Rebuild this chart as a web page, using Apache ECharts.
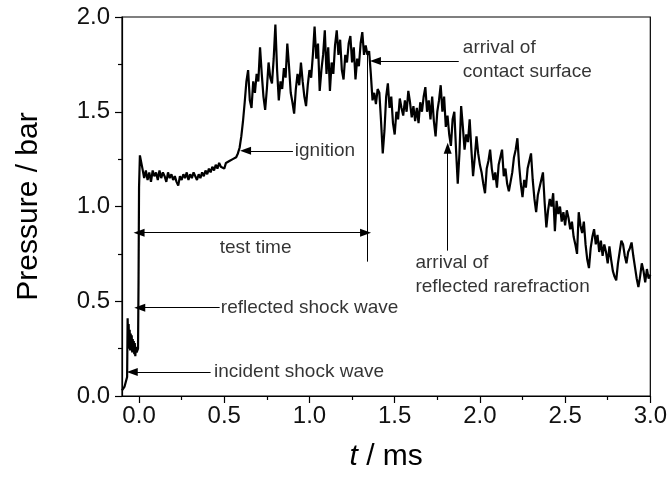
<!DOCTYPE html>
<html>
<head>
<meta charset="utf-8">
<script src="https://cdn.jsdelivr.net/npm/echarts@6/dist/echarts.min.js"></script>
<style>html,body{margin:0;padding:0;background:#fff}#c{width:670px;height:481px}</style>
</head>
<body>
<div id="c"></div>
<script>
// Time (ms) and pressure (bar)
const timeMs = [
-0.100,-0.095,-0.090,-0.085,-0.080,-0.075,-0.070,-0.067,-0.064,-0.061,-0.058,-0.055,-0.052,-0.049,-0.046,-0.043,-0.040,-0.037,-0.034,-0.031,-0.028,-0.025,-0.022,-0.018,-0.014,-0.010,-0.006,-0.003,0.000,0.005,
0.01,0.02,0.03,0.04,0.05,0.06,0.07,0.08,0.09,0.10,0.11,0.12,0.13,0.14,0.15,0.16,0.17,0.18,0.19,0.20,
0.21,0.22,0.23,0.24,0.25,0.26,0.27,0.28,0.29,0.30,0.31,0.32,0.33,0.34,0.35,0.36,0.37,0.38,0.39,0.40,
0.41,0.42,0.43,0.44,0.45,0.46,0.47,0.48,0.49,0.50,0.51,0.52,0.53,0.54,0.55,0.56,0.57,0.58,0.59,0.60,
0.61,0.62,0.63,0.64,0.65,0.66,0.67,0.68,0.69,0.70,0.71,0.72,0.73,0.74,0.75,0.76,0.77,0.78,0.79,0.80,
0.81,0.82,0.83,0.84,0.85,0.86,0.87,0.88,0.89,0.90,0.91,0.92,0.93,0.94,0.95,0.96,0.97,0.98,0.99,1.00,
1.01,1.02,1.03,1.04,1.05,1.06,1.07,1.08,1.09,1.10,1.11,1.12,1.13,1.14,1.15,1.16,1.17,1.18,1.19,1.20,
1.21,1.22,1.23,1.24,1.25,1.26,1.27,1.28,1.29,1.30,1.31,1.32,1.33,1.34,1.35,1.36,1.37,1.38,1.39,1.40,
1.41,1.42,1.43,1.44,1.45,1.46,1.47,1.48,1.49,1.50,1.51,1.52,1.53,1.54,1.55,1.56,1.57,1.58,1.59,1.60,
1.61,1.62,1.63,1.64,1.65,1.66,1.67,1.68,1.69,1.70,1.71,1.72,1.73,1.74,1.75,1.76,1.77,1.78,1.79,1.80,
1.81,1.82,1.83,1.84,1.85,1.86,1.87,1.88,1.89,1.90,1.91,1.92,1.93,1.94,1.95,1.96,1.97,1.98,1.99,2.00,
2.01,2.02,2.03,2.04,2.05,2.06,2.07,2.08,2.09,2.10,2.11,2.12,2.13,2.14,2.15,2.16,2.17,2.18,2.19,2.20,
2.21,2.22,2.23,2.24,2.25,2.26,2.27,2.28,2.29,2.30,2.31,2.32,2.33,2.34,2.35,2.36,2.37,2.38,2.39,2.40,
2.41,2.42,2.43,2.44,2.45,2.46,2.47,2.48,2.49,2.50,2.51,2.52,2.53,2.54,2.55,2.56,2.57,2.58,2.59,2.60,
2.61,2.62,2.63,2.64,2.65,2.66,2.67,2.68,2.69,2.70,2.71,2.72,2.73,2.74,2.75,2.76,2.77,2.78,2.79,2.80,
2.81,2.82,2.83,2.84,2.85,2.86,2.87,2.88,2.89,2.90,2.91,2.92,2.93,2.94,2.95,2.96,2.97,2.98,2.99,3.00
];
const pressureBar = [
0.03,0.04,0.03,0.05,0.04,0.06,0.10,0.41,0.30,0.38,0.25,0.35,0.24,0.33,0.26,0.32,0.23,0.30,0.25,0.29,0.22,0.28,0.21,0.26,0.23,0.22,0.25,0.60,1.10,1.27,
1.27,1.20,1.15,1.19,1.14,1.18,1.13,1.19,1.16,1.18,1.14,1.19,1.15,1.18,1.16,1.13,1.18,1.15,1.17,1.14,
1.16,1.13,1.11,1.16,1.14,1.17,1.15,1.18,1.14,1.17,1.15,1.18,1.16,1.14,1.17,1.15,1.18,1.16,1.19,1.17,
1.20,1.18,1.21,1.19,1.22,1.20,1.23,1.21,1.22,1.20,1.23,1.22,1.24,1.23,1.25,1.24,1.26,1.28,1.31,1.37,
1.45,1.55,1.66,1.72,1.56,1.52,1.66,1.60,1.70,1.66,1.84,1.70,1.58,1.51,1.62,1.76,1.68,1.65,1.78,1.96,
1.72,1.56,1.66,1.62,1.73,1.68,1.86,1.74,1.60,1.55,1.49,1.62,1.70,1.64,1.76,1.66,1.58,1.53,1.64,1.72,
1.68,1.80,1.95,1.78,1.86,1.61,1.72,1.80,1.93,1.70,1.84,1.61,1.76,1.70,1.85,1.93,1.80,1.88,1.72,1.67,
1.80,1.76,1.86,1.90,1.76,1.84,1.67,1.78,1.74,1.86,1.92,1.80,1.85,1.80,1.82,1.70,1.56,1.60,1.54,1.62,
1.60,1.45,1.28,1.40,1.58,1.65,1.52,1.58,1.44,1.38,1.50,1.46,1.57,1.52,1.48,1.56,1.50,1.61,1.55,1.47,
1.53,1.45,1.52,1.44,1.55,1.50,1.58,1.63,1.50,1.56,1.46,1.58,1.45,1.37,1.50,1.56,1.64,1.50,1.58,1.42,
1.48,1.38,1.32,1.46,1.50,1.30,1.12,1.28,1.53,1.42,1.30,1.38,1.34,1.46,1.30,1.16,1.26,1.37,1.28,1.22,
1.18,1.12,1.07,1.20,1.24,1.30,1.20,1.14,1.18,1.10,1.22,1.26,1.30,1.16,1.20,1.12,1.08,1.07,1.18,1.26,
1.30,1.36,1.22,1.12,1.05,1.14,1.10,1.20,1.24,1.28,1.14,1.04,0.97,1.06,1.10,1.14,1.18,1.02,0.89,0.98,
1.04,1.00,1.07,0.87,1.03,0.96,1.00,0.92,0.97,0.90,0.98,0.94,0.88,0.92,0.84,0.80,0.75,0.97,0.90,0.86,
0.92,0.80,0.72,0.675,0.78,0.84,0.88,0.80,0.85,0.76,0.82,0.74,0.80,0.76,0.70,0.79,0.72,0.66,0.63,0.61,
0.70,0.76,0.82,0.80,0.74,0.70,0.76,0.78,0.81,0.74,0.68,0.62,0.575,0.63,0.70,0.66,0.60,0.67,0.62,0.64
];
const xTickValues = [0, 0.5, 1.0, 1.5, 2.0, 2.5, 3.0];
const xMinorTickValues = [0.25, 0.75, 1.25, 1.75, 2.25, 2.75];

// Annotation arrows: [tail, head] in data units (ms, bar)
const incidentArrow = [[0.42, 0.127], [-0.04, 0.127]];
const reflectedArrow = [[0.473, 0.466], [0.004, 0.466]];
const testTimeArrow = [[0.0, 0.862], [1.329, 0.862]];
const testTimeEndLine = [[1.338, 0.709], [1.338, 1.80]];
const ignitionArrow = [[0.903, 1.294], [0.625, 1.294]];
const contactArrow = [[1.876, 1.768], [1.387, 1.768]];
const rarefactionArrow = [[1.811, 0.767], [1.811, 1.307]];

// Annotation texts: [t, p, text]
const labelsLeft = [
  [0.44, 0.127, 'incident shock wave'],
  [0.48, 0.466, 'reflected shock wave'],
  [0.914, 1.294, 'ignition'],
  [1.90, 1.773, 'arrival of\ncontact surface'],
  [1.622, 0.639, 'arrival of\nreflected rarefraction']
];
const labelsCenter = [
  [0.684, 0.783, 'test time']
];

const FONT = '"Liberation Sans", Arial, sans-serif';
const trace = timeMs.map((t, i) => [t, pressureBar[i]]);

function arrowItem(seg, syms) {
  return [
    { coord: seg[0], symbol: syms[0] },
    { coord: seg[1], symbol: syms[1] }
  ];
}

const chart = echarts.init(document.getElementById('c'), null, { renderer: 'canvas' });
chart.setOption({
  animation: false,
  backgroundColor: '#fff',
  grid: { left: 122, right: 18, top: 17, bottom: 85, show: true, borderColor: '#000', borderWidth: 1.2, backgroundColor: 'transparent' },
  xAxis: [{
    type: 'value', min: -0.1, max: 3.0,
    name: '{it|t} / ms', nameLocation: 'middle', nameGap: 46,
    nameTextStyle: { fontFamily: FONT, fontSize: 30, color: '#000', rich: { it: { fontStyle: 'italic', fontFamily: FONT, fontSize: 30, color: '#000' } } },
    axisLine: { show: true, onZero: false, lineStyle: { color: '#000', width: 1.2 } },
    axisTick: { show: true, length: 7, customValues: xTickValues, lineStyle: { color: '#000', width: 1.2 } },
    axisLabel: { customValues: xTickValues, margin: 8, fontFamily: FONT, fontSize: 24, color: '#111', formatter: v => v.toFixed(1) },
    splitLine: { show: false }
  }, {
    type: 'value', min: -0.1, max: 3.0, position: 'bottom', offset: 0,
    axisLine: { show: false, onZero: false },
    axisTick: { show: true, length: 4, customValues: xMinorTickValues, lineStyle: { color: '#000', width: 1.2 } },
    axisLabel: { show: false },
    splitLine: { show: false }
  }],
  yAxis: {
    type: 'value', min: 0, max: 2.0, interval: 0.5,
    name: 'Pressure / bar', nameLocation: 'middle', nameGap: 78,
    nameTextStyle: { fontFamily: FONT, fontSize: 30, color: '#000' },
    axisLine: { show: true, onZero: false, lineStyle: { color: '#000', width: 1.2 } },
    axisTick: { show: true, length: 7, lineStyle: { color: '#000', width: 1.2 } },
    minorTick: { show: true, splitNumber: 2, length: 4, lineStyle: { color: '#000', width: 1.2 } },
    axisLabel: { margin: 12, fontFamily: FONT, fontSize: 24, color: '#111', formatter: v => v.toFixed(1) },
    splitLine: { show: false }
  },
  series: [{
    type: 'line',
    data: trace,
    showSymbol: false,
    symbol: 'none',
    sampling: 'none',
    lineStyle: { color: '#000', width: 2.2 },
    silent: true,
    markLine: {
      silent: true,
      symbolSize: [8, 11],
      lineStyle: { color: '#000', width: 1, type: 'solid' },
      label: { show: false },
      emphasis: { disabled: true },
      data: [
        arrowItem(incidentArrow, ['none', 'triangle']),
        arrowItem(reflectedArrow, ['none', 'triangle']),
        arrowItem(testTimeArrow, ['triangle', 'triangle']),
        arrowItem(testTimeEndLine, ['none', 'none']),
        arrowItem(ignitionArrow, ['none', 'triangle']),
        arrowItem(contactArrow, ['none', 'triangle']),
        arrowItem(rarefactionArrow, ['none', 'triangle'])
      ]
    }
  }, {
    type: 'scatter',
    data: labelsLeft,
    symbolSize: 0,
    silent: true,
    label: { show: true, position: 'right', distance: 0, formatter: p => p.data[2], fontFamily: FONT, fontSize: 19, lineHeight: 24, color: '#000', align: 'left', verticalAlign: 'middle' }
  }, {
    type: 'scatter',
    data: labelsCenter,
    symbolSize: 0,
    silent: true,
    label: { show: true, position: 'inside', formatter: p => p.data[2], fontFamily: FONT, fontSize: 19, color: '#000', align: 'center', verticalAlign: 'middle' }
  }]
});
</script>
</body>
</html>
